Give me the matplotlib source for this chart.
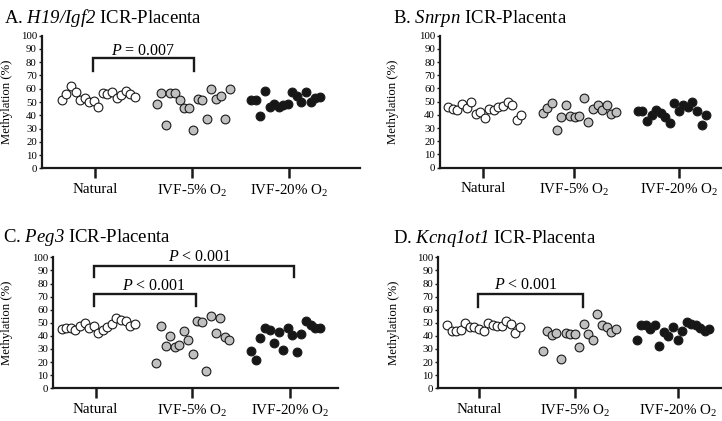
import matplotlib
matplotlib.use('Agg')
import matplotlib.pyplot as plt
import numpy as np

plt.rcParams['font.family'] = ['Liberation Serif', 'DejaVu Serif']
plt.rcParams['mathtext.fontset'] = 'custom'
plt.rcParams['mathtext.rm'] = 'Liberation Serif'
plt.rcParams['mathtext.it'] = 'Liberation Serif:italic'
# \mathsf is used for the italic gene names so that digits are italic too
plt.rcParams['mathtext.sf'] = 'Liberation Serif:italic'

# methylation (%) per sample, read left to right within each group
groups = ['Natural', 'IVF-5% O$_2$', 'IVF-20% O$_2$']

a_natural = [51.3, 56.3, 61.8, 57.5, 51.5, 53.3, 50.3, 50.8, 46.2, 56.5, 55.8, 57.5, 52.8, 55.0, 58.5, 55.8, 54.0]
a_ivf5 = [48.2, 57.0, 32.9, 57.0, 57.0, 51.3, 45.2, 45.7, 29.1, 52.3, 51.8, 37.4, 59.8, 52.3, 54.8, 37.4, 59.8]
a_ivf20 = [51.5, 51.5, 39.4, 58.1, 46.4, 48.5, 46.0, 48.0, 48.3, 57.3, 54.5, 50.2, 57.5, 50.2, 53.2, 54.0]

b_natural = [46.2, 44.2, 43.7, 48.0, 45.5, 50.0, 40.7, 42.2, 37.6, 44.2, 43.7, 46.2, 46.7, 49.5, 47.2, 36.1, 40.2]
b_ivf5 = [41.2, 44.9, 48.7, 28.5, 38.6, 47.2, 39.1, 38.1, 39.1, 53.0, 34.8, 44.7, 47.7, 43.7, 47.2, 40.7, 42.2]
b_ivf20 = [43.2, 43.2, 35.6, 39.9, 43.7, 41.2, 38.1, 33.6, 49.2, 43.2, 47.2, 46.2, 49.5, 43.2, 32.6, 40.2]

c_natural = [45.0, 46.3, 45.8, 44.5, 47.8, 50.1, 45.8, 47.6, 42.0, 44.5, 47.0, 49.1, 53.4, 52.2, 51.4, 47.8, 48.9]
c_ivf5 = [19.1, 47.3, 32.6, 40.2, 31.6, 33.1, 43.5, 37.2, 26.0, 51.4, 50.6, 13.0, 55.0, 42.4, 53.9, 38.9, 36.9]
c_ivf20 = [28.8, 21.9, 38.7, 45.8, 44.3, 34.9, 43.0, 29.0, 46.3, 40.7, 28.0, 41.7, 51.7, 48.3, 46.3, 46.3]

d_natural = [48.3, 43.8, 43.8, 44.3, 49.6, 46.8, 46.8, 45.0, 43.8, 49.6, 48.3, 47.6, 47.6, 51.4, 48.9, 42.0, 46.8]
d_ivf5 = [28.5, 43.5, 40.7, 42.0, 22.4, 42.0, 41.7, 41.2, 31.3, 49.1, 41.7, 36.9, 56.7, 48.3, 46.6, 43.3, 45.5]
d_ivf20 = [36.5, 48.5, 48.5, 45.5, 48.0, 32.5, 43.0, 40.0, 46.6, 36.5, 44.0, 50.5, 49.0, 48.0, 46.0, 43.5, 45.5]

fill_colors = ['#ffffff', '#c0c0c0', '#161616']

W, H = 722, 421

# layout in pixels of the figure (x data of each axes is in pixels too)
panels = [
    dict(title='A. $\\mathsf{H19/Igf2}$ ICR-Placenta', values=(a_natural, a_ivf5, a_ivf20),
         box=(41.7, 35.7, 360, 168.3), ticks=(95, 192.3, 289.3), centers=(98.3, 193.2, 285.5),
         title_xy=(4, 18.3), ylabel_x=13.3,
         brackets=[(93.3, 194, 83, 73.4, '$P$ = 0.007', 143, 88.5)]),
    dict(title='B. $\\mathsf{Snrpn}$ ICR-Placenta', values=(b_natural, b_ivf5, b_ivf20),
         box=(440, 35.7, 722, 167.7), ticks=(483.3, 574.3, 678.7), centers=(484.8, 579.3, 672),
         title_xy=(392.7, 18.3), ylabel_x=399.3, brackets=[]),
    dict(title='C. $\\mathsf{Peg3}$ ICR-Placenta', values=(c_natural, c_ivf5, c_ivf20),
         box=(53.3, 257.3, 338, 388.3), ticks=(95.7, 192.3, 289.7), centers=(98.2, 192.8, 285.5),
         title_xy=(3.3, 237.3), ylabel_x=13.3,
         brackets=[(94, 294, 93.6, 84.7, '$P$ < 0.001', 200, 100.5),
                   (94, 196, 72.2, 62.8, '$P$ < 0.001', 154.3, 78)]),
    dict(title='D. $\\mathsf{Kcnq1ot1}$ ICR-Placenta', values=(d_natural, d_ivf5, d_ivf20),
         box=(438.3, 257.3, 722, 388.3), ticks=(479.3, 575.3, 677.7), centers=(483.5, 579.2, 673),
         title_xy=(392.7, 238.3), ylabel_x=400.3,
         brackets=[(477.7, 583, 72.2, 62.3, '$P$ < 0.001', 526, 78.9)]),
]

step = 4.55  # horizontal spacing between samples, px

fig = plt.figure(figsize=(W / 100, H / 100), dpi=100)

for p in panels:
    left, top, right, bottom = p['box']
    ax = fig.add_axes([left / W, 1 - bottom / H, (right - left) / W, (bottom - top) / H])
    ax.set_xlim(left, right)
    ax.set_ylim(0, 100)

    for vals, cx, fc in zip(p['values'], p['centers'], fill_colors):
        n = len(vals)
        xs = cx + (np.arange(n) - (n - 1) / 2) * step
        ax.scatter(xs, vals, s=40, facecolor=fc, edgecolor='#1a1a1a', linewidths=0.8,
                   zorder=3, clip_on=False)

    for x0, x1, ytop, ybot, label, tx, ty in p['brackets']:
        ax.plot([x0, x0, x1, x1], [ybot, ytop, ytop, ybot], color='#1a1a1a', lw=1.7,
                clip_on=False, solid_joinstyle='miter')
        ax.text(tx, ty, label, ha='center', va='center', fontsize=11.5, clip_on=False)

    for side in ['top', 'right']:
        ax.spines[side].set_visible(False)
    for side in ['left', 'bottom']:
        ax.spines[side].set_linewidth(1.6)
        ax.spines[side].set_color('#1a1a1a')

    ax.set_xticks(p['ticks'])
    ax.set_xticklabels(groups, fontsize=10.8)
    ax.set_yticks(range(0, 101, 10))
    ax.tick_params(axis='x', length=7, width=1.8, pad=3.5, color='#1a1a1a')
    ax.tick_params(axis='y', length=2.5, width=1.0, pad=1, labelsize=7.8, color='#1a1a1a')

    ax.set_ylabel('Methylation (%)', fontsize=9.2)
    ax.yaxis.set_label_coords((p['ylabel_x'] - left) / (right - left), 0.5)

    fig.text(p['title_xy'][0] / W, 1 - p['title_xy'][1] / H, p['title'],
             ha='left', va='center', fontsize=13.5)

fig.savefig('out.png', dpi=100)
